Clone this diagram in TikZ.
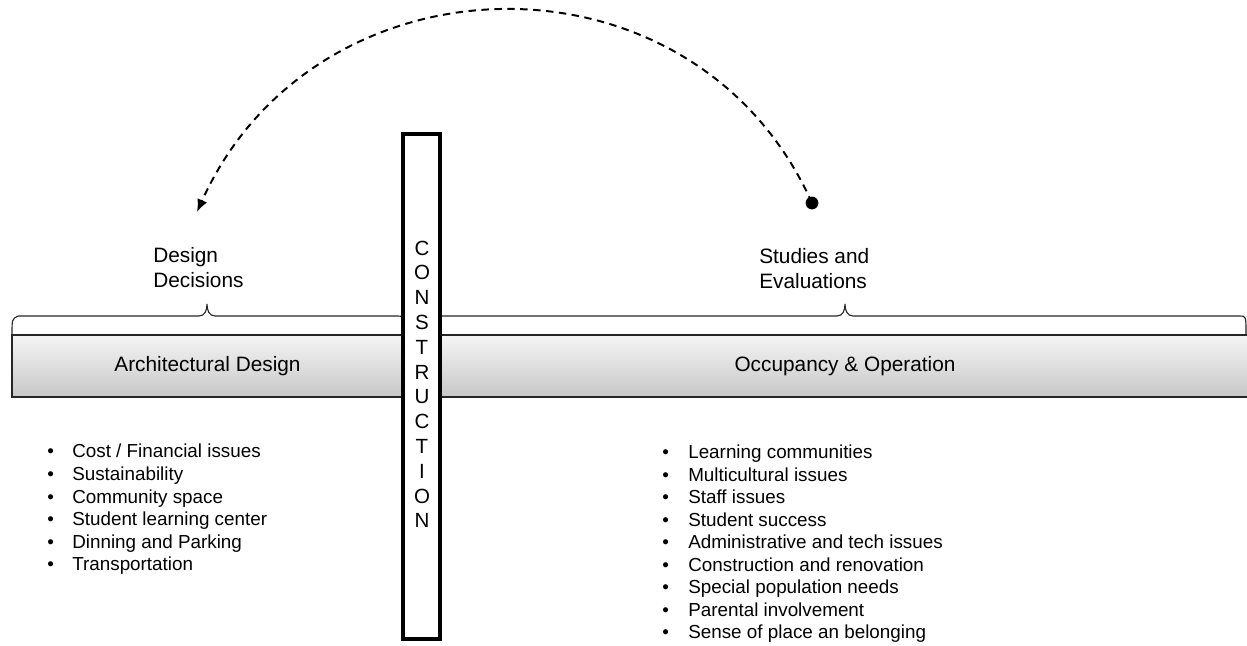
\documentclass[tikz,border=0pt]{standalone}
\usepackage{fontspec}
\setmainfont{Liberation Sans}
\usetikzlibrary{arrows.meta}

\tikzset{%
  % Specifications for style of nodes:
         stagebox/.style = {rectangle, draw = black!85, line width=0.9pt, top color=black!4, bottom color=black!22, minimum height=1.55cm, font=\fontsize{14.8}{17.8}\selectfont},
         heading/.style = {align=left, inner sep=0pt, font=\fontsize{14.8}{17.8}\selectfont},
         letterbox/.style = {inner sep=0pt, text height=0.72em, text depth=0pt, font=\fontsize{14.6}{17.6}\selectfont},
         listitem/.style = {inner sep=0pt, anchor=west, text height=0.9em, text depth=0.2em, font=\fontsize{13.4}{16.1}\selectfont},
         bracket/.style = {draw=black!85, line width=0.8pt},
}

\begin{document}
\begin{tikzpicture}[x=0.025cm, y=-0.025cm, >={Latex[length=9pt,width=7.5pt]}]
    \clip (0,0) rectangle (1247,645);

    % Draw nodes
    \node (arch)   [stagebox, minimum width=9.775cm] at (207.5,366) {Architectural Design};
    \node (occupy) [stagebox, minimum width=20.55cm] at (845,366) {Occupancy \& Operation};

    % braces over the two phases
    \draw[bracket] (12,335) .. controls (12,319) .. (18,316) -- (199,316) .. controls (205,316) and (207,310) .. (207,304) .. controls (207,310) and (209,316) .. (215,316) -- (398,316) .. controls (404,316) .. (404,335);
    \draw[bracket] (430,335) .. controls (430,319) .. (436,316) -- (837,316) .. controls (843,316) and (845,310) .. (845,304) .. controls (845,310) and (847,316) .. (853,316) -- (1240,316) .. controls (1246,316) .. (1246,335);

    \node (decide) [heading, anchor=west] at (153,267.5) {Design\\Decisions};
    \node (study)  [heading, anchor=west] at (759,268.5) {Studies and\\Evaluations};

    \node (build) [draw, line width=2.6pt, fill=white, minimum width=0.925cm, minimum height=12.625cm, inner sep=0pt] at (421.5,386.5) {};
    \foreach \c [count=\i from 0] in {C,O,N,S,T,R,U,C,T,I,O,N}
        \node (build-\i) [letterbox] at (422,250+24.8*\i) {\c};

    \foreach \t [count=\i from 0] in {Cost / Financial issues, Sustainability, Community space, Student learning center, Dinning and Parking, Transportation}
        \node (arch-\i) [listitem] at (47,453+22.6*\i) {\makebox[0.625cm][l]{•}\t};
    \foreach \t [count=\i from 0] in {Learning communities, Multicultural issues, Staff issues, Student success, Administrative and tech issues, Construction and renovation, Special population needs, Parental involvement, Sense of place an belonging}
        \node (occupy-\i) [listitem] at (662,454+22.5*\i) {\makebox[0.65cm][l]{•}\t};

    % Draw arrows
    \coordinate (feedback) at (812,203);
    \coordinate (back) at (197,212);
    \fill (feedback) circle (0.16cm);
    \draw[->, line width=1.4pt, dash pattern=on 5.3pt off 3.9pt] (feedback) .. controls (694,-60) and (315,-51) .. (back);
\end{tikzpicture}
\end{document}
